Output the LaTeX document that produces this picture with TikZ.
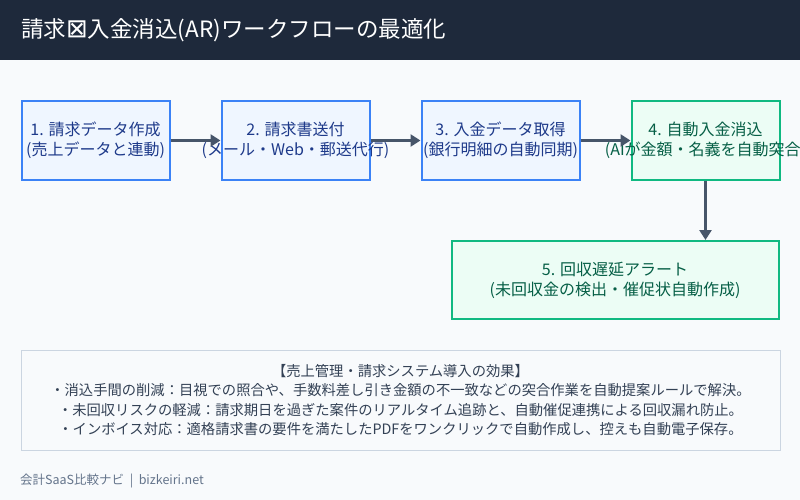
\documentclass[tikz,border=0pt]{standalone}
\usepackage{fontspec}
\setmainfont{Noto Sans CJK JP}
\newfontfamily\symbolfont{DejaVu Sans}
\usetikzlibrary{arrows.meta}
\definecolor{entete}{HTML}{1E293B}
\definecolor{fond}{HTML}{F8FAFC}
\definecolor{bleubord}{HTML}{3B82F6}
\definecolor{bleufond}{HTML}{EFF6FF}
\definecolor{bleutexte}{HTML}{1E3A8A}
\definecolor{vertbord}{HTML}{10B981}
\definecolor{vertfond}{HTML}{ECFDF5}
\definecolor{verttexte}{HTML}{065F46}
\definecolor{fleche}{HTML}{475569}
\definecolor{grisbord}{HTML}{CBD5E1}
\definecolor{gristexte}{HTML}{334155}
\definecolor{pied}{HTML}{64748B}
\begin{document}
\begin{tikzpicture}[x=1pt, y=-1pt, every node/.style={inner sep=0pt},
    boitebleue/.style={draw=bleubord, fill=bleufond, line width=2pt, minimum width=148pt, minimum height=78pt},
    boiteverte/.style={draw=vertbord, fill=vertfond, line width=2pt, minimum width=148pt, minimum height=78pt},
    txtbleu/.style={text=bleutexte, align=center, font=\fontsize{16}{19.5}\selectfont},
    txtvert/.style={text=verttexte, align=center, font=\fontsize{16}{20}\selectfont},
    lien/.style={draw=fleche, line width=3pt, -{Triangle[length=10pt,width=12pt]}}]
    \useasboundingbox (0,0) rectangle (800,500);
    % Fond et bandeau
    \fill[fond] (0,0) rectangle (800,500);
    \fill[entete] (0,0) rectangle (800,60);
    \node[anchor=west, text=white, font=\fontsize{22.5}{26}\selectfont] (titre) at (21,30)
        {請求{\symbolfont\fontsize{26}{26}\selectfont ⊠}入金消込(AR)ワークフローの最適化};

    % Etapes du flux
    \node[boitebleue] (b1) at (95.5,140.5) {};
    \node[txtbleu] (t1) at (b1) {1. 請求データ作成\\(売上データと連動)};
    \node[boitebleue] (b2) at (295.5,140.5) {};
    \node[txtbleu] (t2) at (b2) {2. 請求書送付\\(メール・Web・郵送代行)};
    \node[boitebleue, minimum width=158pt] (b3) at (500.5,140.5) {};
    \node[txtbleu] (t3) at (b3) {3. 入金データ取得\\(銀行明細の自動同期)};
    \node[boiteverte] (b4) at (705.5,140.5) {};
    \node[txtvert] (t4) at (b4) {4. 自動入金消込\\(AIが金額・名義を自動突合)};
    \node[boiteverte, minimum width=327pt] (b5) at (615,280) {};
    \node[txtvert] (t5) at (b5) {5. 回収遅延アラート\\(未回収金の検出・催促状自動作成)};

    % Fleches
    \draw[lien] (b1) -- (b2);
    \draw[lien] (b2) -- (b3);
    \draw[lien] (b3) -- (b4);
    \draw[lien] (b4.south) -- (b4.south |- b5.north);

    % Encadre des effets
    \node[draw=grisbord, fill=fond, line width=1pt, minimum width=759pt, minimum height=100pt] (effets) at (400.5,400) {};
    \node[text=gristexte, align=center, font=\fontsize{14.3}{19.5}\selectfont] (teffets) at (effets)
        {【売上管理・請求システム導入の効果】\\
         ・消込手間の削減：目視での照合や、手数料差し引き金額の不一致などの突合作業を自動提案ルールで解決。\\
         ・未回収リスクの軽減：請求期日を過ぎた案件のリアルタイム追跡と、自動催促連携による回収漏れ防止。\\
         ・インボイス対応：適格請求書の要件を満たしたPDFをワンクリックで自動作成し、控えも自動電子保存。};

    % Pied de page
    \node[anchor=west, text=pied, font=\fontsize{12.5}{14}\selectfont] (source) at (20,481) {会計SaaS比較ナビ\ \ |\ \ bizkeiri.net};
\end{tikzpicture}
\end{document}
